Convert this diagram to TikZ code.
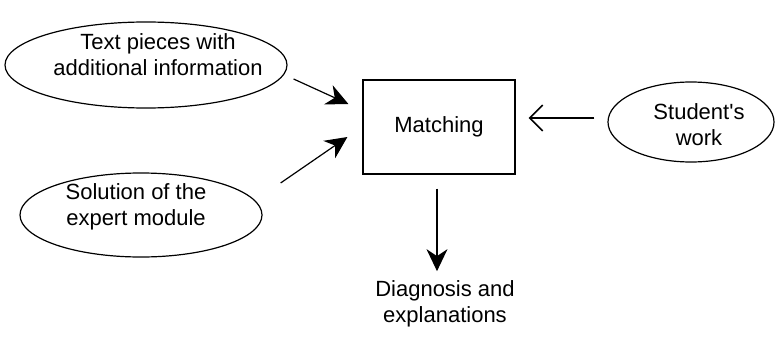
\documentclass[tikz,border=0pt]{standalone}
\usepackage{fontspec}
\setmainfont{Liberation Sans}
\usetikzlibrary{shapes.geometric,arrows.meta}

\begin{document}
\begin{tikzpicture}[x=1pt,y=-1pt,line width=1.2pt,
	blob/.style={draw,ellipse,inner sep=0pt},
	txt/.style={align=center,inner sep=0pt,font=\fontsize{22}{26}\selectfont},
	arr/.style={-{Stealth[length=22pt,width=21pt,inset=7pt]}},
	barb/.style={-{Straight Barb[length=13pt,width=26pt,line width=1.6pt]}}]
	\useasboundingbox (0,0) rectangle (775,337);
	\node[blob,minimum width=282pt,minimum height=86pt] (info) at (146,65) {};
	\node[txt] (infotext) at (158,55) {Text pieces with\\additional information};
	\node[blob,minimum width=242pt,minimum height=84pt] (expert) at (141,215) {};
	\node[txt] (experttext) at (136,207) {Solution of the\\expert module};
	\node[blob,minimum width=166pt,minimum height=80pt] (work) at (691,122) {};
	\node[txt] (worktext) at (699,125) {Student\textquotesingle s\\work};
	\node[draw,rectangle,minimum width=152pt,minimum height=94pt,txt] (match) at (439,127) {Matching};
	\node[txt] (diag) at (445,304) {Diagnosis and\\explanations};
	\draw[arr] ([xshift=6pt,yshift=-14pt]info.east) -- ([xshift=-14pt,yshift=23pt]match.west);
	\draw[arr] ([xshift=18pt,yshift=32pt]expert.east) -- ([xshift=-15pt,yshift=-10pt]match.west);
	\draw[barb] ([xshift=-13pt,yshift=4pt]work.west) -- ([xshift=13pt,yshift=9pt]match.east);
	\draw[arr] ([xshift=-2pt,yshift=-14pt]match.south) -- ([xshift=-8pt,yshift=9pt]diag.north);
\end{tikzpicture}
\end{document}
